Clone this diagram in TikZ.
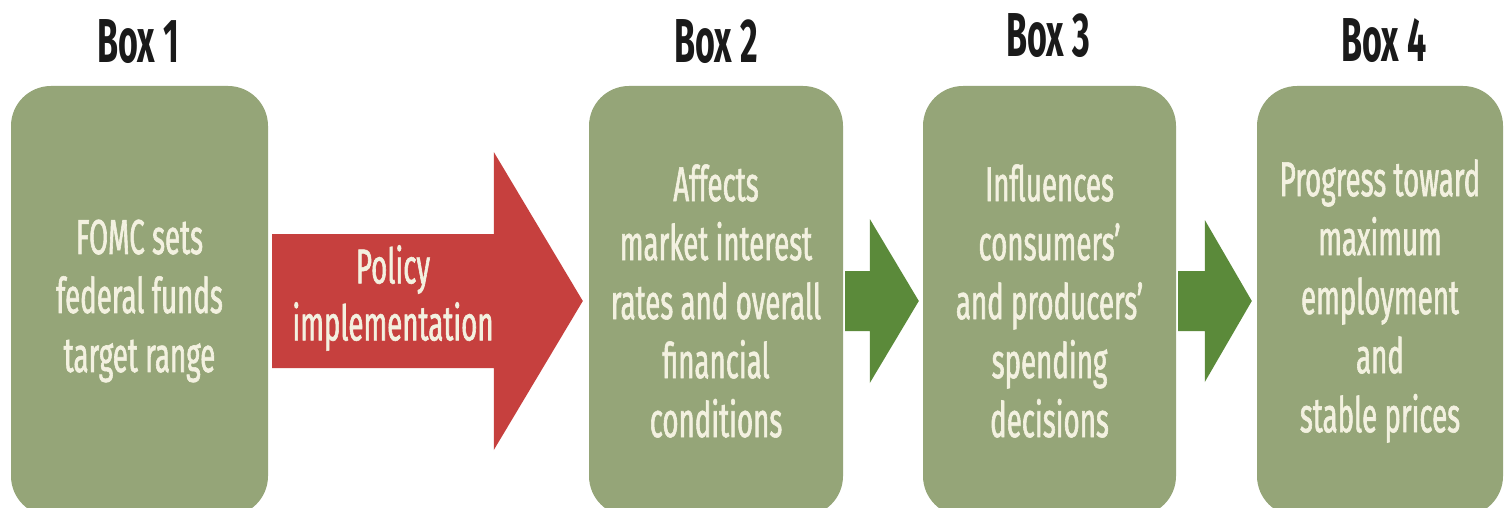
\documentclass[tikz,border=0pt]{standalone}
\usepackage{fontspec}
\setmainfont{Fira Sans}[FakeStretch=0.55]
\newfontfamily\stagefont{Fira Sans}[FakeStretch=0.565, FakeBold=1.2]
\usetikzlibrary{calc}
\definecolor{boxgreen}{HTML}{95A578}
\definecolor{arrowred}{HTML}{C6403E}
\definecolor{arrowgreen}{HTML}{5B8A3A}
\definecolor{cream}{HTML}{F3F1E0}
\definecolor{titleink}{HTML}{1A1A1A}
% block arrow: #1 fill, #2 tail point, #3 tip point, #4 shaft half height, #5 head half height, #6 head length
\newcommand{\blockarrow}[6]{%
  \fill[#1] let \p1=#2, \p2=#3 in
    (\x1,\y2+#4pt) -- (\x2-#6pt,\y2+#4pt) -- (\x2-#6pt,\y2+#5pt) -- (\x2,\y2)
    -- (\x2-#6pt,\y2-#5pt) -- (\x2-#6pt,\y2-#4pt) -- (\x1,\y2-#4pt) -- cycle;}
\begin{document}
\begin{tikzpicture}[x=1pt,y=-1pt,
  stage/.style={fill=boxgreen, rounded corners=40pt, minimum height=430pt,
    text=cream, align=center, inner sep=0pt,
    font=\stagefont\fontsize{49}{59}\selectfont},
  boxtitle/.style={text=titleink, anchor=base, inner sep=0pt,
    font=\fontsize{62}{62}\selectfont\bfseries},
  arrowlabel/.style={text=cream, align=center, inner sep=0pt,
    font=\stagefont\fontsize{49}{57}\selectfont}]
\clip (0,0) rectangle (1506,508);
\fill[white] (0,0) rectangle (1506,508);

% stages
\node[stage, minimum width=257pt] (b1) at (139.5,301)
  {FOMC sets\\federal funds\\target range};
\node[stage, minimum width=254pt] (b2) at (716,301)
  {Affects\\market interest\\rates and overall\\financial\\conditions};
\node[stage, minimum width=253pt] (b3) at (1049.5,301)
  {Influences\\consumers’\\and producers’\\spending\\decisions};
\node[stage, minimum width=246pt] (b4) at (1380,301)
  {Progress toward\\maximum\\employment\\and\\stable prices};

% titles
\node[boxtitle] (t1) at (138,63) {Box 1};
\node[boxtitle] (t2) at (716,63) {Box 2};
\node[boxtitle] (t3) at (1048,57) {Box 3};
\node[boxtitle] (t4) at (1384,62) {Box 4};

% arrows between stages
\coordinate (r0) at ($(b1.east)+(4,0)$);
\coordinate (r1) at ($(b2.west)+(-6,0)$);
\blockarrow{arrowred}{(r0)}{(r1)}{67}{149}{89}
\node[arrowlabel] (pl) at (393,298) {Policy\\implementation};

\coordinate (g0) at ($(b2.east)+(2,0)$);
\coordinate (g1) at ($(b3.west)+(-4,0)$);
\blockarrow{arrowgreen}{(g0)}{(g1)}{30}{82}{49}

\coordinate (h0) at ($(b3.east)+(2,0)$);
\coordinate (h1) at ($(b4.west)+(-5,0)$);
\blockarrow{arrowgreen}{(h0)}{(h1)}{30}{81}{47}
\end{tikzpicture}
\end{document}
